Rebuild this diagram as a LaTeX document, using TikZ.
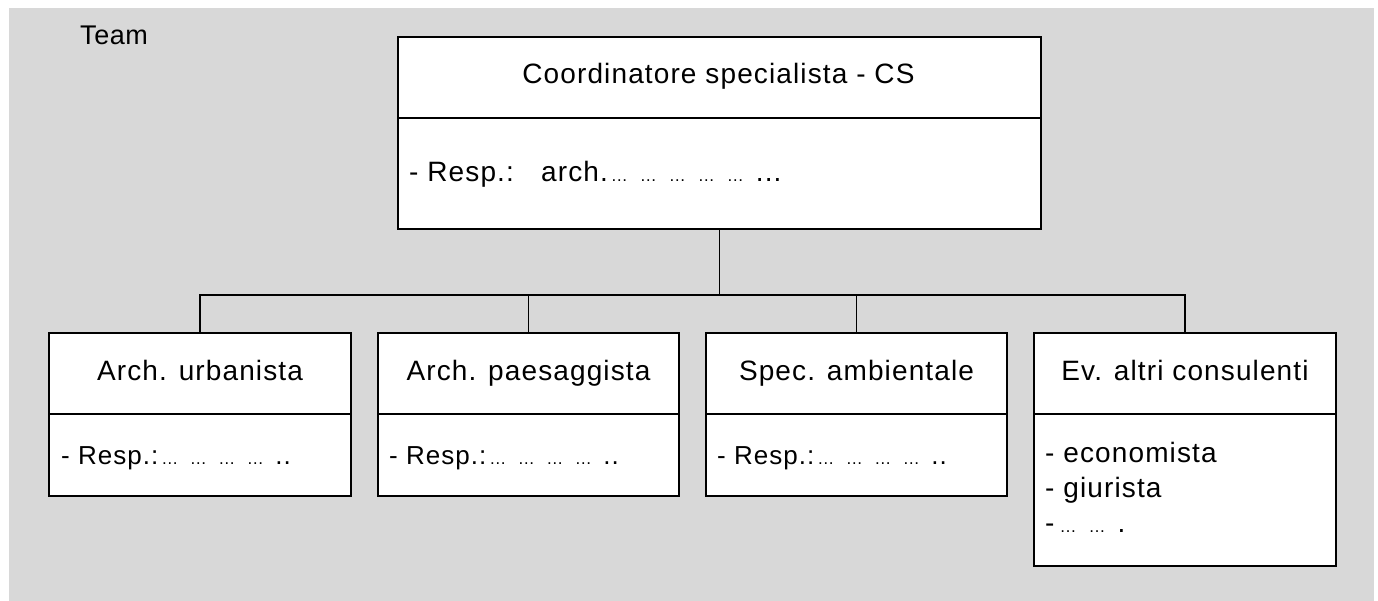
\documentclass[tikz,border=0pt]{standalone}
\usepackage{fontspec}
\setmainfont{Liberation Sans}[LetterSpace=4]
\definecolor{bggray}{RGB}{216,216,216}
\newcommand\dg[1][28.5]{\makebox[#1pt][l]{\fontsize{17}{17}\selectfont\addfontfeature{LetterSpace=0}…}}
\begin{document}
\begin{tikzpicture}[x=1pt,y=-1pt,
  box/.style={draw=black,line width=2pt,fill=white,inner sep=0pt,anchor=north west},
  conn/.style={draw=black,line width=1.8pt},
  divl/.style={draw=black,line width=2pt},
  lbl/.style={inner sep=0pt,font=\fontsize{28}{32}\selectfont},
  resp/.style={inner sep=0pt,anchor=base west,font=\fontsize{26}{30}\selectfont}]
\useasboundingbox (0,0) rectangle (1378,601);
\fill[white] (0,0) rectangle (1378,601);
\fill[bggray] (9,8) rectangle (1374,601);
\node[inner sep=0pt,anchor=base west,font=\fontsize{27}{30}\selectfont\addfontfeature{LetterSpace=2}] (team) at (80,45) {Team};
% top box
\node[box,minimum width=643pt,minimum height=192pt] (cs) at (397,36) {};
\draw[divl] (cs.north west) ++(0,82.5) -- ++(643,0);
\node[lbl,anchor=base] (cst) at (718.5,84) {Coordinatore specialista - CS};
\node[lbl,anchor=base west] (csr) at (409,182) {- Resp.:};
\node[lbl,anchor=base west] (csa) at (541,182) {arch.\hspace{3pt}\dg[29]\dg[29]\dg[29]\dg[29]\dg[29]...};
% lower boxes
\node[box,minimum width=302pt,minimum height=163pt] (b1) at (48,332) {};
\node[box,minimum width=301pt,minimum height=163pt] (b2) at (377,332) {};
\node[box,minimum width=301pt,minimum height=163pt] (b3) at (705,332) {};
\node[box,minimum width=302pt,minimum height=233pt] (b4) at (1033,332) {};
\draw[divl] (b1.north west) ++(0,82) -- ++(302,0);
\draw[divl] (b2.north west) ++(0,82) -- ++(301,0);
\draw[divl] (b3.north west) ++(0,82) -- ++(301,0);
\draw[divl] (b4.north west) ++(0,82) -- ++(302,0);
\node[lbl,anchor=base] (t1) at (b1.north |- 0,381) {Arch. urbanista};
\node[lbl,anchor=base] (t2) at (b2.north |- 0,381) {Arch. paesaggista};
\node[lbl,anchor=base] (t3) at (b3.north |- 0,381) {Spec. ambientale};
\node[lbl,anchor=base] (t4) at (b4.north |- 0,381) {Ev. altri consulenti};
\node[resp] (r1) at (61,464) {- Resp.:\hspace{3pt}\dg\dg\dg\dg..};
\node[resp] (r2) at (389,464) {- Resp.:\hspace{3pt}\dg\dg\dg\dg..};
\node[resp] (r3) at (717,464) {- Resp.:\hspace{3pt}\dg\dg\dg\dg..};
\node[lbl,anchor=base west] (l1) at (1045,462) {- economista};
\node[lbl,anchor=base west] (l2) at (1045,497) {- giurista};
\node[lbl,anchor=base west] (l3) at (1045,532) {-\hspace{5pt}\dg[29]\dg[29].};
% connectors
\coordinate (bus) at (719,295);
\draw[conn] (cs.south) -- (cs.south |- bus);
\draw[conn] (b1.north) -- (b1.north |- bus) -- (b4.north |- bus) -- (b4.north);
\draw[conn] (b2.north) -- (b2.north |- bus);
\draw[conn] (b3.north) -- (b3.north |- bus);
\end{tikzpicture}
\end{document}
